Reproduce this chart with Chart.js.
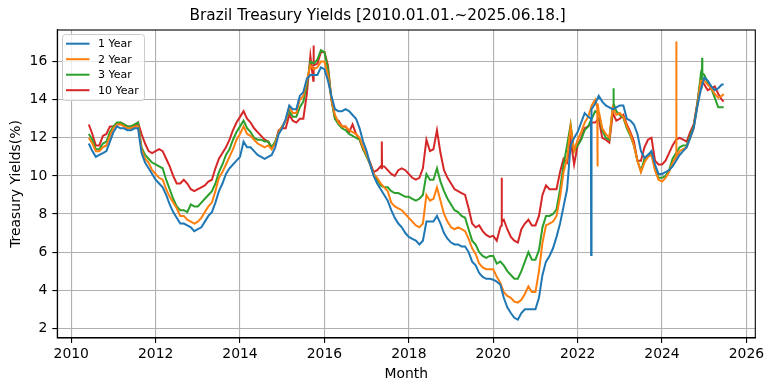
<!DOCTYPE html>
<html>
<head>
<meta charset="utf-8">
<script src="https://cdn.jsdelivr.net/npm/chart.js@4"></script>
<style>
  html, body { margin: 0; padding: 0; background: #fff; }
  #chart { display: block; }
</style>
</head>
<body>
<canvas id="chart" width="773" height="391"></canvas>
<script>
    // monthly readings, Jun 2010 .. Jun 2025, last value is 2025-06-18
    const firstMonth = 2010 + 5 / 12;
    const lastDay = 2025.46;

    const seriesLabels = ['1 Year', '2 Year', '3 Year', '10 Year'];
    const seriesColors = ['#1f77b4', '#ff7f0e', '#2ca02c', '#d62728'];

    const y1 = [
        11.7, 11.3, 11.0, 11.1, 11.2, 11.3, 11.8,
        12.3, 12.6, 12.5, 12.5, 12.4, 12.4, 12.5, 12.5, 11.2, 10.7, 10.4, 10.1,
        9.8, 9.6, 9.4, 9.0, 8.5, 8.1, 7.8, 7.5, 7.5, 7.4, 7.3, 7.1,
        7.2, 7.3, 7.6, 7.9, 8.1, 8.6, 9.2, 9.6, 10.1, 10.4, 10.6, 10.8,
        11.0, 11.8, 11.5, 11.5, 11.3, 11.1, 11.0, 10.9, 11.0, 11.1, 11.5, 12.2,
        12.5, 13.0, 13.7, 13.5, 13.5, 14.2, 14.4, 15.1, 15.3, 15.3, 15.3, 15.7,
        15.6, 15.0, 14.2, 13.5, 13.4, 13.4, 13.5, 13.4, 13.2, 13.0, 12.5, 11.8,
        11.3, 10.6, 10.0, 9.6, 9.3, 9.0, 8.7, 8.2, 7.8, 7.5, 7.3, 7.0,
        6.8, 6.7, 6.6, 6.4, 6.6, 7.6, 7.6, 7.6, 7.9, 7.5, 7.0, 6.7,
        6.5, 6.4, 6.4, 6.3, 6.3, 6.0, 5.5, 5.3, 4.9, 4.7, 4.6, 4.6,
        4.55, 4.45, 4.3, 3.6, 3.1, 2.8, 2.55, 2.45, 2.8, 3.0, 3.0, 3.0,
        3.0, 3.6, 4.8, 5.5, 5.8, 6.2, 6.8, 7.5, 8.4, 9.3, 11.6, 12.0,
        12.3, 12.8, 13.3, 13.1, 13.5, 13.8, 14.2, 13.9, 13.7, 13.6, 13.5, 13.6,
        13.7, 13.7, 13.0, 12.9, 12.7, 12.2, 11.3, 10.95, 11.1, 11.3, 10.6, 10.1,
        10.1, 10.2, 10.3, 10.5, 10.8, 11.1, 11.3, 11.5, 12.0, 12.5, 13.6, 14.5,
        15.15, 15.0, 14.7, 14.5, 14.6, 14.8, 14.8
    ];
    const y2 = [
        12.0, 11.7, 11.3, 11.3, 11.5, 11.6, 12.1,
        12.5, 12.7, 12.7, 12.6, 12.5, 12.5, 12.6, 12.6, 11.4, 10.9, 10.7, 10.3,
        10.1, 9.9, 9.8, 9.3, 8.9, 8.6, 8.3, 7.9, 7.9, 7.7, 7.6, 7.5,
        7.6, 7.8, 8.1, 8.4, 8.6, 9.2, 9.9, 10.2, 10.6, 11.0, 11.4, 11.9,
        12.2, 12.6, 12.2, 12.1, 11.9, 11.7, 11.6, 11.5, 11.6, 11.4, 11.7, 12.3,
        12.6, 12.9, 13.6, 13.3, 13.3, 14.0, 14.2, 15.0, 15.8, 15.6, 15.7, 16.0,
        16.0, 15.3, 14.0, 13.2, 12.8, 12.6, 12.6, 12.4, 12.3, 12.2, 12.0, 11.5,
        11.1, 10.6, 10.1, 9.9, 9.6, 9.4, 9.2, 8.6, 8.4, 8.3, 8.2, 8.0,
        7.8, 7.6, 7.4, 7.3, 7.5, 9.0, 8.7, 8.8, 9.4, 8.7, 8.0, 7.6,
        7.3, 7.2, 7.3, 7.2, 7.1, 6.7, 6.2, 5.9, 5.4, 5.2, 5.1, 5.1,
        5.1, 4.7, 4.4, 3.9, 3.7, 3.6, 3.4, 3.35, 3.5, 3.8, 4.2, 3.9,
        3.9, 5.0, 6.5, 7.4, 7.5, 7.6, 7.9, 8.9, 10.2, 10.9, 12.6, 11.3,
        11.9, 12.3, 12.8, 13.1, 13.7, 14.0, 13.4, 12.5, 12.2, 12.0, 13.6, 13.2,
        13.3, 13.1, 12.6, 12.2, 11.6, 10.8, 10.2, 10.7, 11.0, 11.1, 10.3, 9.8,
        9.7, 9.9, 10.2, 10.7, 11.0, 11.3, 11.4, 11.5, 12.0, 12.5, 13.6, 15.0,
        15.0, 14.8, 14.6, 14.3, 14.1, 14.2, 14.3
    ];
    const y3 = [
        12.2, 11.9, 11.4, 11.4, 11.7, 11.8, 12.3,
        12.6, 12.8, 12.8, 12.7, 12.6, 12.6, 12.7, 12.8, 11.5, 11.1, 10.9, 10.7,
        10.6, 10.5, 10.4, 9.8, 9.3, 8.8, 8.4, 8.2, 8.2, 8.1, 8.5, 8.4,
        8.4, 8.6, 8.8, 9.0, 9.2, 9.6, 10.2, 10.6, 11.1, 11.4, 11.9, 12.3,
        12.6, 12.9, 12.5, 12.3, 12.0, 11.9, 11.9, 11.8, 11.8, 11.5, 11.8, 12.3,
        12.6, 12.9, 13.4, 13.1, 13.1, 13.6, 13.9, 14.8, 16.0, 15.9, 16.1, 16.6,
        16.5, 15.6, 14.0, 13.0, 12.7, 12.5, 12.4, 12.2, 12.1, 12.0, 11.9, 11.4,
        11.0, 10.6, 10.1, 9.8, 9.5, 9.4, 9.4, 9.2, 9.1, 9.1, 9.0, 8.9,
        8.9, 8.8, 8.7, 8.8, 9.0, 10.1, 9.8, 9.8, 10.4, 9.7, 9.2, 8.8,
        8.5, 8.2, 8.1, 7.9, 7.8, 7.2, 6.6, 6.4, 6.0, 5.8, 5.7, 5.8,
        5.8, 5.4, 5.5, 5.3, 5.0, 4.8, 4.6, 4.6, 5.0, 5.5, 6.0, 5.6,
        5.6, 6.1, 7.3, 7.9, 7.9, 8.0, 8.25, 9.3, 10.6, 11.6, 12.7, 11.3,
        11.6, 11.9, 12.4, 12.6, 13.0, 13.4, 13.3, 12.4, 12.0, 11.9, 13.6, 13.4,
        13.2, 13.05, 12.5, 12.1, 11.6, 10.8, 10.25, 10.9, 11.1, 11.2, 10.4, 9.9,
        9.9, 10.0, 10.3, 10.9, 11.2, 11.5, 11.6, 11.6, 12.1, 12.6, 13.7, 15.3,
        15.3, 14.9, 14.6, 14.1, 13.6, 13.6, 13.6
    ];
    const y10 = [
        12.7, 12.2, 11.6, 11.6, 12.1, 12.2, 12.6,
        12.6, 12.7, 12.8, 12.7, 12.6, 12.6, 12.6, 12.8, 12.2, 11.7, 11.3, 11.2,
        11.3, 11.4, 11.3, 10.9, 10.5, 10.0, 9.6, 9.6, 9.8, 9.6, 9.3, 9.2,
        9.3, 9.4, 9.5, 9.7, 9.8, 10.4, 10.9, 11.2, 11.5, 11.9, 12.4, 12.8,
        13.1, 13.4, 13.0, 12.8, 12.5, 12.3, 12.1, 11.9, 11.8, 11.5, 11.7, 12.4,
        12.5, 12.5, 13.2, 12.9, 12.8, 13.0, 13.0, 14.3, 16.3, 15.8, 15.9, 16.5,
        16.5, 15.8, 14.0, 13.0, 12.9, 12.6, 12.6, 12.3, 12.7, 12.2, 11.9, 11.4,
        11.1, 10.7, 10.2, 10.3, 10.5, 10.5, 10.3, 10.1, 10.0, 10.3, 10.4, 10.3,
        10.1, 9.9, 9.8, 9.9, 10.4, 11.9, 11.3, 11.4, 12.4, 11.2, 10.3, 9.9,
        9.6, 9.3, 9.2, 9.1, 9.0, 8.3, 7.5, 7.3, 7.4, 7.1, 6.9, 6.8,
        6.85, 6.6, 7.3, 7.7, 7.2, 6.8, 6.6, 6.5, 7.2, 7.5, 7.7, 7.4,
        7.4, 7.9, 9.0, 9.5, 9.3, 9.3, 9.3, 10.2, 10.9, 10.7, 11.9, 10.6,
        11.6, 12.0, 12.5, 12.6, 12.8, 12.8, 13.0, 12.0, 11.9, 11.75, 13.3, 12.9,
        13.0, 13.2, 12.7, 12.3, 11.8, 10.8, 10.8, 11.5, 11.9, 12.0, 10.8, 10.6,
        10.6, 10.8, 11.2, 11.6, 11.9, 12.0, 11.9, 11.8, 12.3, 12.7, 13.8, 15.0,
        14.8, 14.5, 14.6, 14.7, 14.3, 14.0, 13.9
    ];

    // one-day jumps, [date, value]
    const y1Spikes = [[2022.315, 13.0], [2022.32, 5.85], [2022.325, 13.1]];
    const y2Spikes = [[2022.465, 13.6], [2022.47, 10.5], [2022.475, 13.8],
                      [2024.335, 11.0], [2024.34, 17.05], [2024.345, 11.0]];
    const y3Spikes = [[2022.845, 13.6], [2022.85, 14.6], [2022.855, 13.8],
                      [2024.945, 15.0], [2024.95, 16.2], [2024.955, 15.4]];
    const y10Spikes = [[2015.735, 15.0], [2015.74, 16.85], [2015.745, 15.6],
                       [2017.355, 10.4], [2017.36, 11.8], [2017.365, 10.5],
                       [2020.195, 7.4], [2020.2, 9.9], [2020.205, 7.6]];

    const xTicks = [2010, 2012, 2014, 2016, 2018, 2020, 2022, 2024, 2026];
    const yTicks = [2, 4, 6, 8, 10, 12, 14, 16];

    const dates = y1.map((_, i) => i === y1.length - 1 ? lastDay : firstMonth + i / 12);

    function buildPoints(values, spikes) {
        const pts = values.map((v, i) => ({ x: dates[i], y: v }));
        spikes.forEach(([x, y]) => pts.push({ x, y }));
        return pts.sort((a, b) => a.x - b.x);
    }

    const font = 'DejaVu Sans';

    // matplotlib-like frame + legend box in the upper left
    const frameLegend = {
        id: 'frameLegend',
        afterDraw(chart) {
            const c = chart.ctx, a = chart.chartArea;
            c.save();
            c.strokeStyle = '#000';
            c.lineWidth = 1.1;
            c.strokeRect(a.left, a.top, a.right - a.left, a.bottom - a.top);

            const bx = 62.5, by = 34.5, bw = 82, bh = 66;
            c.beginPath();
            c.roundRect(bx, by, bw, bh, 3);
            c.fillStyle = 'rgba(255,255,255,0.8)';
            c.fill();
            c.strokeStyle = '#cccccc';
            c.lineWidth = 1;
            c.stroke();

            c.font = '11px "' + font + '"';
            c.textBaseline = 'middle';
            c.fillStyle = '#000';
            chart.data.datasets.forEach((ds, i) => {
                const ry = 43.7 + i * 15.5;
                c.beginPath();
                c.moveTo(66, ry);
                c.lineTo(89.5, ry);
                c.strokeStyle = ds.borderColor;
                c.lineWidth = 2;
                c.stroke();
                c.fillText(ds.label, 98, ry + 0.5);
            });
            c.restore();
        }
    };

    const ctx = document.getElementById('chart').getContext('2d');
    const allValues = [y1, y2, y3, y10];
    const allSpikes = [y1Spikes, y2Spikes, y3Spikes, y10Spikes];

    new Chart(ctx, {
        type: 'line',
        data: {
            datasets: seriesLabels.map((label, i) => ({
                label,
                data: buildPoints(allValues[i], allSpikes[i]),
                borderColor: seriesColors[i],
                backgroundColor: seriesColors[i],
                borderWidth: 2,
                pointRadius: 0,
                tension: 0,
                fill: false
            }))
        },
        options: {
            responsive: false,
            animation: false,
            layout: { padding: { left: 0, right: 17.7, top: 0, bottom: 0 } },
            plugins: {
                legend: { display: false },
                tooltip: { enabled: false },
                title: {
                    display: true,
                    text: 'Brazil Treasury Yields [2010.01.01.~2025.06.18.]',
                    color: '#000',
                    font: { family: font, size: 15.3, weight: 'normal' },
                    padding: { top: 7, bottom: 4.64 }
                }
            },
            scales: {
                x: {
                    type: 'linear',
                    min: 2009.67,
                    max: 2026.21,
                    afterBuildTicks: s => { s.ticks = xTicks.map(v => ({ value: v })); },
                    afterFit: s => { s.height = 53; s.paddingLeft = 0; s.paddingRight = 0; },
                    ticks: {
                        callback: v => String(v),
                        autoSkip: false,
                        maxRotation: 0,
                        padding: 3,
                        color: '#000',
                        font: { family: font, size: 13.9 }
                    },
                    grid: { color: '#b0b0b0', lineWidth: 1.1, tickLength: 5, tickColor: '#000' },
                    border: { color: '#000', width: 1.1 },
                    title: {
                        display: true,
                        text: 'Month',
                        color: '#000',
                        font: { family: font, size: 13.9 },
                        padding: { top: 4, bottom: 8 }
                    }
                },
                y: {
                    min: 1.49,
                    max: 17.66,
                    afterBuildTicks: s => { s.ticks = yTicks.map(v => ({ value: v })); },
                    afterFit: s => { s.width = 57.3; },
                    ticks: {
                        autoSkip: false,
                        padding: 5,
                        color: '#000',
                        font: { family: font, size: 13.9 }
                    },
                    grid: { color: '#b0b0b0', lineWidth: 1.1, tickLength: 5, tickColor: '#000' },
                    border: { color: '#000', width: 1.1 },
                    title: {
                        display: true,
                        text: 'Treasury Yields(%)',
                        color: '#000',
                        font: { family: font, size: 13.9 },
                        padding: { top: 8, bottom: 4 }
                    }
                }
            }
        },
        plugins: [frameLegend]
    });
</script>
</body>
</html>
